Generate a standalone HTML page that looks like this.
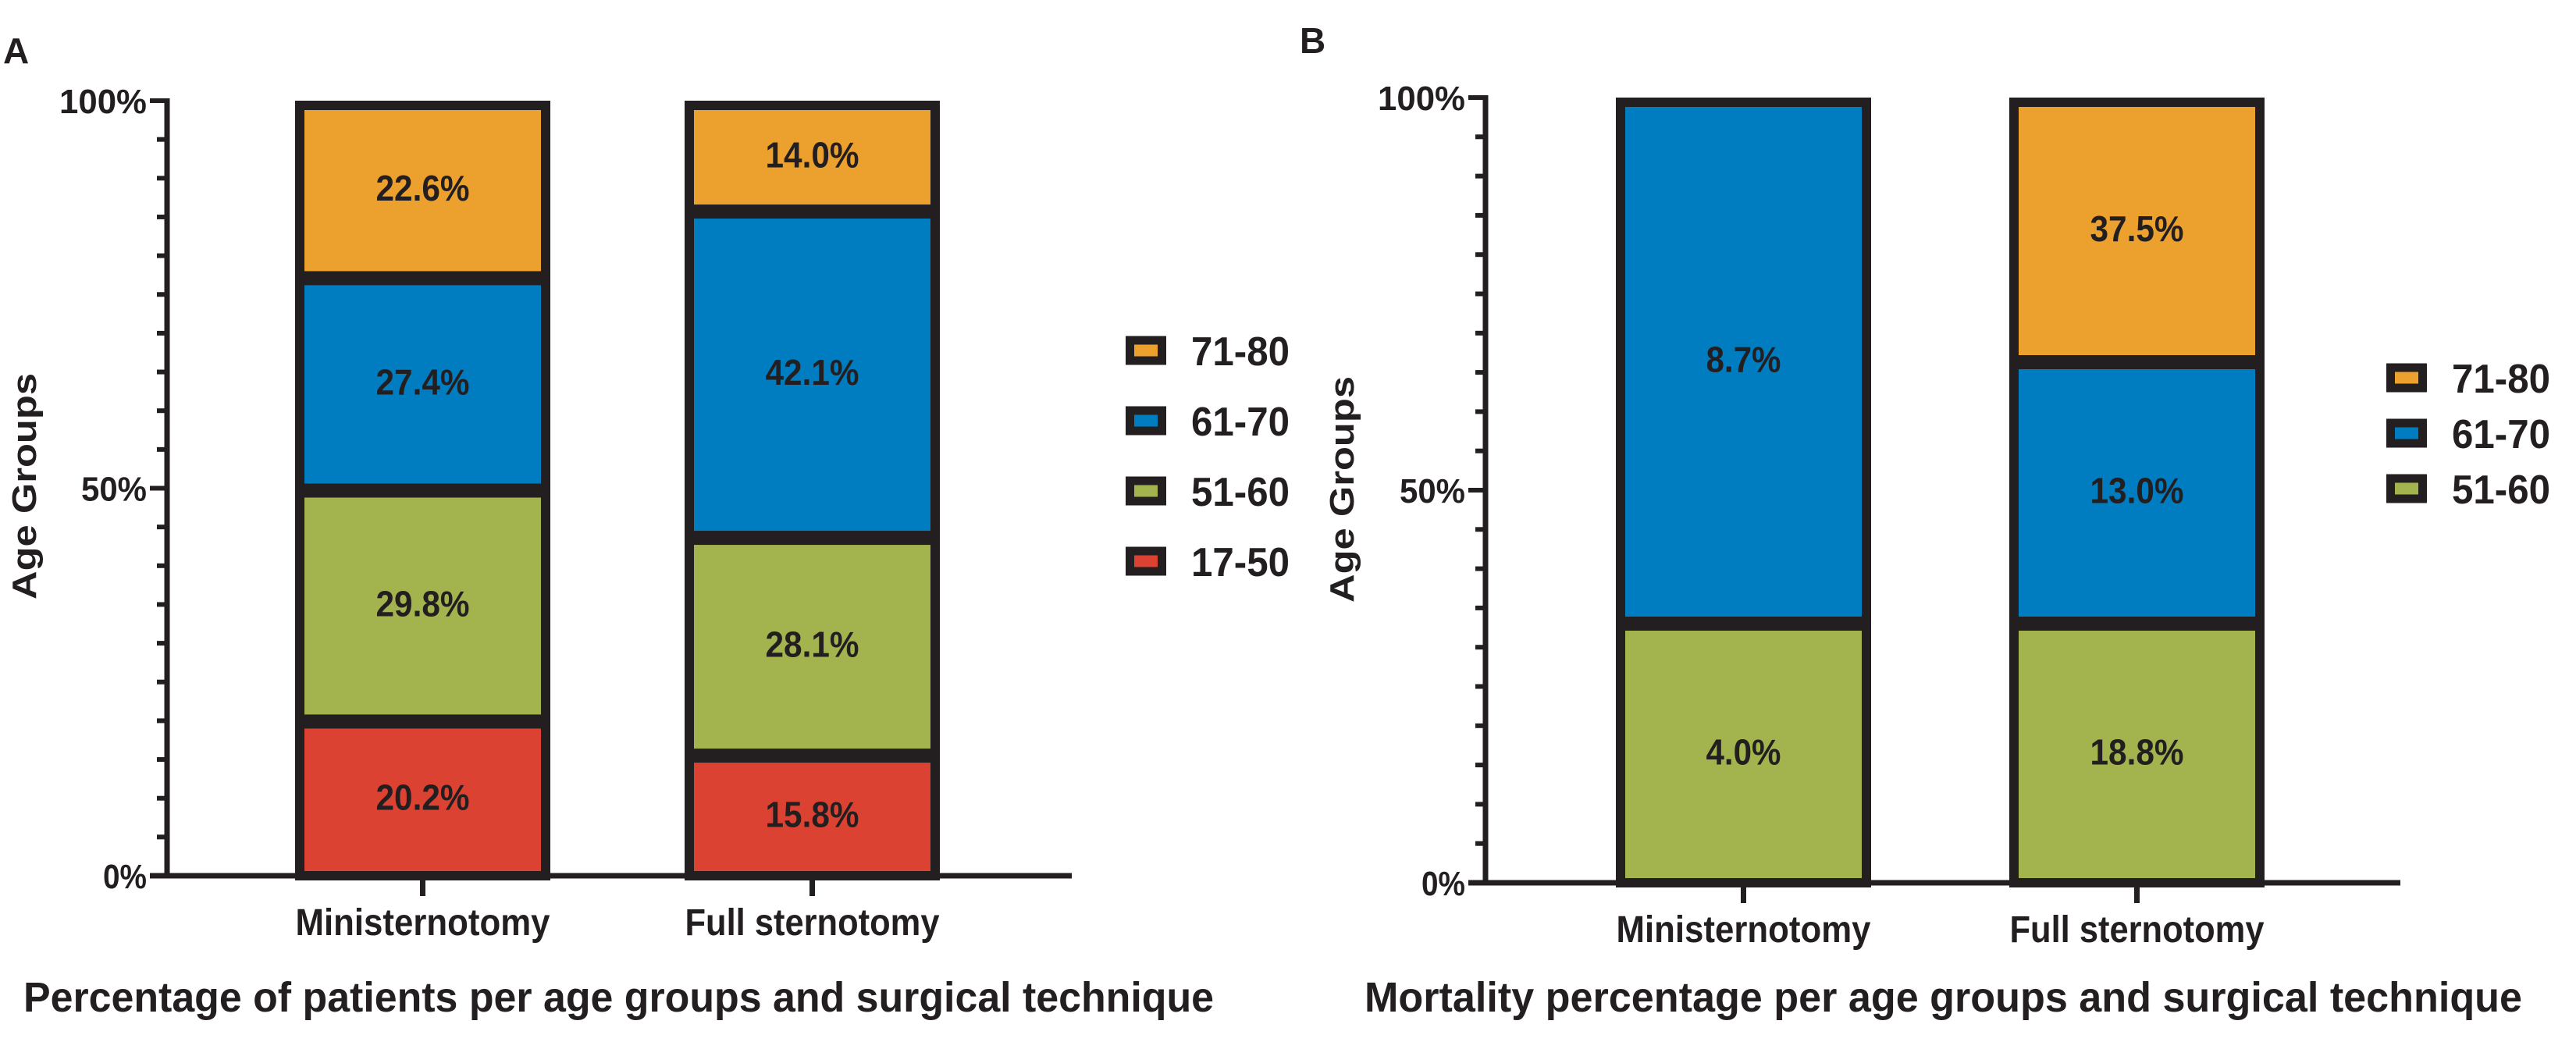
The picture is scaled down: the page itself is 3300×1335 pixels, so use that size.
<!DOCTYPE html>
<html><head><meta charset="utf-8"><style>
html,body{margin:0;padding:0;background:#fff;}
svg{display:block;}
text{font-family:"Liberation Sans",sans-serif;font-weight:bold;fill:#231F20;}
</style></head><body>
<svg id="fig" width="3300" height="1335" viewBox="0 0 3300 1335" xmlns="http://www.w3.org/2000/svg"></svg>
<script>
// ---- data ----
const categories = ["Ministernotomy", "Full sternotomy"];
const seriesNamesA = ["17-50", "51-60", "61-70", "71-80"];
const miniA = [20.2, 29.8, 27.4, 22.6];
const fullA = [15.8, 28.1, 42.1, 14.0];
const seriesNamesB = ["51-60", "61-70", "71-80"];
const miniB = [33.3, 66.7, 0];
const fullB = [33.3, 33.3, 33.4];
const miniBLabels = ["4.0%", "8.7%", ""];
const fullBLabels = ["18.8%", "13.0%", "37.5%"];
const yTicks = [0, 50, 100];
const yTickLabels = ["0%", "50%", "100%"];

const colors = {"17-50":"#DB4232","51-60":"#A3B34E","61-70":"#007DC0","71-80":"#ECA02E"};
const INK = "#231F20";
const NS = "http://www.w3.org/2000/svg";
const svg = document.getElementById('fig');

function mk(tag, attrs, parent){
  const e = document.createElementNS(NS, tag);
  for (const k in attrs) e.setAttribute(k, attrs[k]);
  (parent||svg).appendChild(e);
  return e;
}

function panel(p){
  const g = mk('g', {});
  
  
  const y = v => p.y0 - (v/100)*(p.y0 - p.y100);
  // panel letter
  const L = mk('text', {x:p.letterX, y:p.letterY, 'font-size':46}, g);
  L.textContent = p.letter;
  
  
  // bars
  p.bars.forEach((vals, bi) => {
    const bx = p.barX[bi];
    let acc = 0;
    vals.forEach((v, si) => {
      if (v <= 0) return;
      const top = y(acc + v), bot = y(acc);
      const r = mk('rect', {x:bx+6, y:top+6, width:p.barW-12, height:bot-top-6, fill:colors[p.series[si]], stroke:INK, 'stroke-width':12}, g);
      
      
      const lbl = p.labels ? p.labels[bi][si] : v.toFixed(1) + '%';
      const t = mk('text', {x:bx+p.barW/2, y:(top+bot)/2 + 16, 'font-size':46, 'text-anchor':'middle', textLength: 24*lbl.length, lengthAdjust:'spacingAndGlyphs'}, g);
      t.textContent = lbl;
      
      
      acc += v;
    });
    // x tick
    const cx = bx + p.barW/2;
    mk('line', {x1:cx, x2:cx, y1:p.y0, y2:p.y0+26, stroke:INK, 'stroke-width':7}, g);
    const c = mk('text', {x:cx, y:p.y0+76, 'font-size':48, 'text-anchor':'middle', textLength:326, lengthAdjust:'spacingAndGlyphs'}, g);
    c.textContent = categories[bi];
    
    
  });
  // axes
  const ya = mk('line', {x1:p.axisX, x2:p.axisX, y1:p.y100-3, y2:p.y0+3, stroke:INK, 'stroke-width':7}, g);
  
  
  const xa = mk('line', {x1:p.axisX-22, x2:p.xEnd, y1:p.y0, y2:p.y0, stroke:INK, 'stroke-width':7}, g);
  
  
  for (let v = 0; v <= 100; v += 5){
    const major = yTicks.indexOf(v) >= 0;
    mk('line', {x1:p.axisX - (major?22:13), x2:p.axisX, y1:y(v), y2:y(v), stroke:INK, 'stroke-width':6}, g);
  }
  yTicks.forEach((v, i) => {
    const t = mk('text', {x:p.axisX-26, y:y(v)+16, 'font-size':44, 'text-anchor':'end', textLength: 28*yTickLabels[i].length, lengthAdjust:'spacingAndGlyphs'}, g);
    t.textContent = yTickLabels[i];
    
    
  });
  // y title
  const yt = mk('text', {x:0, y:0, 'font-size':44, 'text-anchor':'middle', transform:`translate(${p.yTitleX},${p.yTitleY}) rotate(-90)`, textLength:290, lengthAdjust:'spacingAndGlyphs'}, g);
  yt.textContent = 'Age Groups';
  
  
  // x title
  const xt = mk('text', {x:p.titleX, y:1296, 'font-size':54, textLength:p.titleW, lengthAdjust:'spacingAndGlyphs'}, g);
  xt.textContent = p.title;
  
  
  // legend
  p.legendOrder.forEach((s, i) => {
    const cy = p.legY[i];
    const sw = mk('rect', {x:p.legX+5.5, y:cy-13, width:41, height:26, fill:colors[s], stroke:INK, 'stroke-width':11}, g);
    
    
    const lt = mk('text', {x:p.legX+84, y:cy+19, 'font-size':52, textLength:126, lengthAdjust:'spacingAndGlyphs'}, g);
    lt.textContent = s;
    
    
  });
}

panel({name:'panel-a', letter:'A', letterX:4, letterY:81, axisX:214, y0:1122, y100:129, xEnd:1373,
  barX:[378, 877], barW:327, bars:[miniA, fullA], series:seriesNamesA,
  yTitleX:46, yTitleY:623, titleX:30, titleW:1525,
  title:'Percentage of patients per age groups and surgical technique',
  legendOrder:["71-80","61-70","51-60","17-50"], legX:1442, legY:[449,539,629,719]});

panel({name:'panel-b', letter:'B', letterX:1665, letterY:68, axisX:1903, y0:1131, y100:125, xEnd:3075,
  barX:[2070, 2574], barW:327, bars:[miniB, fullB], series:seriesNamesB, labels:[miniBLabels, fullBLabels],
  yTitleX:1734, yTitleY:627, titleX:1748, titleW:1483,
  title:'Mortality percentage per age groups and surgical technique',
  legendOrder:["71-80","61-70","51-60"], legX:3057, legY:[484,555,626]});
</script>
</body></html>
